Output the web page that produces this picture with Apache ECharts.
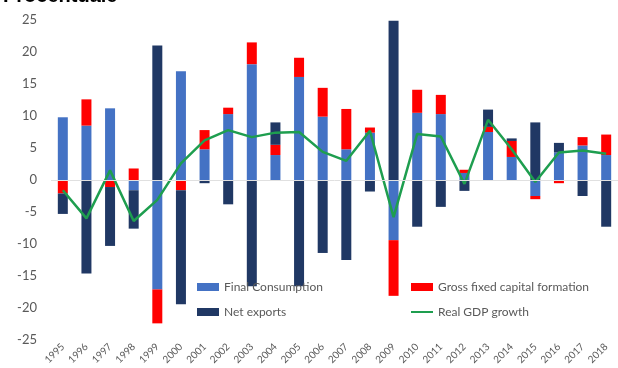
<!DOCTYPE html>
<html>
<head>
<meta charset="utf-8">
<script src="https://cdn.jsdelivr.net/npm/echarts@6/dist/echarts.min.js"></script>
<style>
  html, body { margin: 0; padding: 0; background: #fff; }
  #chart { width: 618px; height: 368px; }
</style>
</head>
<body>
<div id="chart"></div>
<script>
// years on the x axis
const years = ['1995','1996','1997','1998','1999','2000','2001','2002','2003','2004','2005','2006',
  '2007','2008','2009','2010','2011','2012','2013','2014','2015','2016','2017','2018'];

// contributions to growth, percentage points
const finalConsumption = [9.8, 8.5, 11.2, -1.6, -17.1, 17.0, 4.8, 10.3, 18.1, 3.9, 16.1, 9.9,
  4.8, 7.4, -9.4, 10.5, 10.3, 1.1, 7.5, 3.6, -2.5, 4.3, 5.4, 3.9];
const grossCapital = [-2.1, 4.1, -1.1, 1.8, -5.3, -1.6, 3.0, 1.0, 3.4, 1.6, 3.0, 4.5,
  6.3, 0.8, -8.7, 3.6, 3.0, 0.5, 0.8, 2.5, -0.5, -0.5, 1.3, 3.2];
const netExports = [-3.2, -14.6, -9.2, -6.0, 21.0, -17.8, -0.5, -3.8, -16.6, 3.5, -16.6, -11.4,
  -12.5, -1.8, 24.9, -7.3, -4.2, -1.7, 2.7, 0.4, 9.0, 1.5, -2.5, -7.3];
const gdpGrowth = [-1.6, -6.0, 1.5, -6.4, -3.1, 2.6, 6.2, 7.8, 6.7, 7.4, 7.5, 4.4,
  3.0, 7.7, -5.8, 7.2, 6.8, -0.6, 9.4, 4.8, -0.3, 4.3, 4.6, 4.1];

const txt = '#595959';
const font = 'Lato';

const chart = echarts.init(document.getElementById('chart'));

chart.setOption({
  animation: false,
  title: {
    text: 'Procentuale',
    left: -2, top: -19,
    textStyle: { fontSize: 20, fontWeight: 'bold', color: '#000', fontFamily: 'Liberation Sans' }
  },
  grid: { left: 51, right: -7, top: 20, bottom: 28 },
  legend: [
    {
      orient: 'vertical', left: 192, top: 276, itemGap: 13,
      itemWidth: 22, itemHeight: 8,
      textStyle: { color: txt, fontSize: 12, fontFamily: font },
      data: [{ name: 'Final Consumption', icon: 'rect' }, { name: 'Net exports', icon: 'rect' }]
    },
    {
      orient: 'vertical', left: 405, top: 276, itemGap: 13,
      itemWidth: 22, itemHeight: 8,
      textStyle: { color: txt, fontSize: 12, fontFamily: font },
      data: [
        { name: 'Gross fixed capital formation', icon: 'rect' },
        { name: 'Real GDP growth', itemStyle: { color: 'transparent', borderWidth: 0 } }
      ]
    }
  ],
  xAxis: {
    type: 'category',
    data: years,
    axisLine: { show: false },
    axisTick: { show: false },
    axisLabel: { rotate: 45, color: txt, fontSize: 10, fontFamily: font, margin: 5, interval: 0 }
  },
  yAxis: {
    type: 'value',
    min: -25, max: 25, interval: 5,
    splitLine: { show: false },
    axisLine: { show: false },
    axisLabel: { color: txt, fontSize: 13, fontFamily: font, margin: 14 }
  },
  series: [
    {
      name: 'Final Consumption', type: 'bar', stack: 'c', barWidth: 10,
      itemStyle: { color: '#4472C4' },
      data: finalConsumption,
      markLine: {
        silent: true, symbol: 'none', label: { show: false },
        lineStyle: { color: '#E0E0E0', type: 'solid', width: 1 },
        data: [{ yAxis: 0 }]
      }
    },
    {
      name: 'Gross fixed capital formation', type: 'bar', stack: 'c', barWidth: 10,
      itemStyle: { color: '#FF0000' },
      data: grossCapital
    },
    {
      name: 'Net exports', type: 'bar', stack: 'c', barWidth: 10,
      itemStyle: { color: '#203864' },
      data: netExports
    },
    {
      name: 'Real GDP growth', type: 'line', symbol: 'none',
      lineStyle: { color: '#1E9E4F', width: 2.5 },
      itemStyle: { color: '#1E9E4F' },
      data: gdpGrowth
    }
  ]
});
</script>
</body>
</html>
